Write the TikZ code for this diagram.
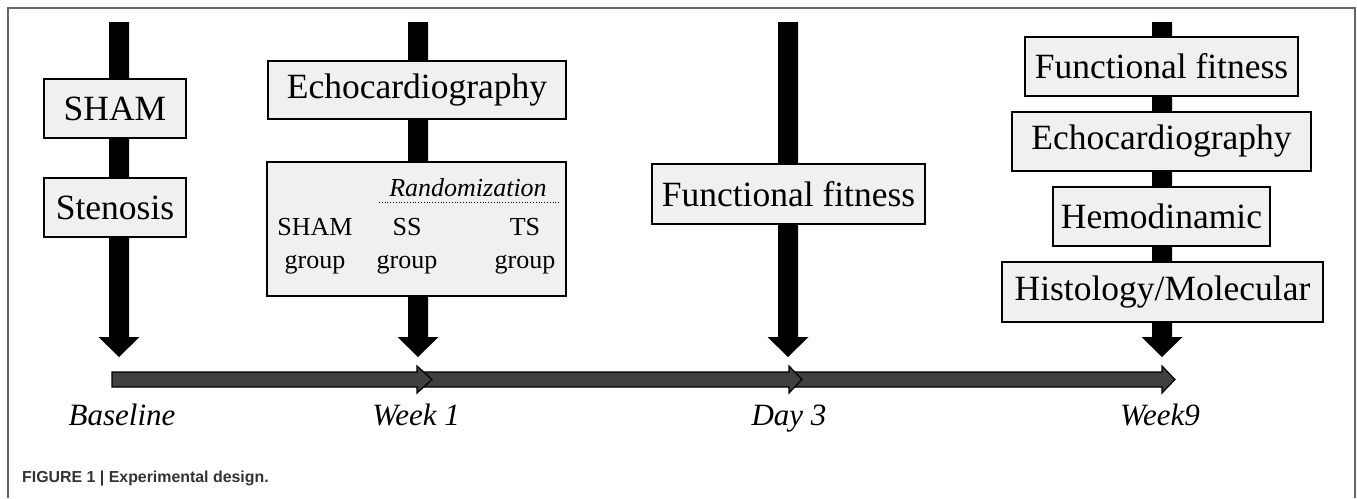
\documentclass[tikz,border=0pt]{standalone}
\usepackage{fontspec}
\setmainfont{Liberation Serif}
\newfontfamily\capfont{Liberation Sans}
\begin{document}
\begin{tikzpicture}[x=1pt,y=-1pt,
  box/.style={draw=black,line width=1.3pt,fill=gray!12,inner sep=0pt,
    font=\fontsize{35.5}{40}\selectfont},
  tl/.style={font=\fontsize{31}{36}\selectfont\itshape,inner sep=0pt,anchor=base},
  small/.style={font=\fontsize{26}{33}\selectfont,inner sep=0pt,align=center},
  seg/.style={draw=black,line width=1.2pt,fill=black!75,line join=miter},
  varrow/.style={fill=black}]
\useasboundingbox (0,0) rectangle (1357,498);
% frame
\draw[line width=1.6pt,draw=black!60] (8,498) -- (8,8) -- (1355,8) -- (1355,498);

% timeline segments (drawn right to left so heads overlay)
\foreach \s/\e/\b in {789/1175/1162, 417/802/789, 112/432/417}{
  \draw[seg] (\s,372) -- (\b,372) -- (\b,366) -- (\e,379.5) -- (\b,393) -- (\b,387) -- (\s,387) -- cycle;
}

% vertical arrows
\foreach \n/\cx in {a/119, b/418, c/788, d/1162}{
  \coordinate (\n top) at (\cx,22);
  \coordinate (\n tip) at (\cx,357);
  \fill[varrow] ([xshift=-10pt]\n top) -- ([xshift=10pt]\n top) -- (\cx+10,337) -- (\cx+20.5,337)
     -- (\n tip) -- (\cx-20.5,337) -- (\cx-10,337) -- cycle;
}

% boxes
\node[box,minimum width=142pt,minimum height=59pt] (sham) at (115,108.5) {SHAM};
\node[box,minimum width=142pt,minimum height=59pt] (sten) at (115,207.5) {Stenosis};
\node[box,minimum width=298pt,minimum height=58pt] (echo1) at (417,90) {Echocardiography};
\node[box,minimum width=299pt,minimum height=134pt] (rand) at (416.5,229) {};
\node[small,font=\fontsize{26}{33}\selectfont\itshape] (randt) at (468,187.5) {Randomization};
\draw[dotted,line width=0.8pt] (379,202) -- (559,202);
\node[small] (g1) at (315,246) {SHAM\\group};
\node[small] (g2) at (407,246) {SS\\group};
\node[small] (g3) at (525,246) {TS\\group};

\node[box,minimum width=273pt,minimum height=60pt] (ff3) at (788.5,194) {Functional fitness};

\node[box,minimum width=273pt,minimum height=59pt] (ff9) at (1161.5,66.5) {Functional fitness};
\node[box,minimum width=299pt,minimum height=59pt] (echo9) at (1161.5,141.5) {Echocardiography};
\node[box,minimum width=217pt,minimum height=59pt] (hemo) at (1161.5,216.5) {Hemodinamic};
\node[box,minimum width=321pt,minimum height=60pt] (histo) at (1162.5,292) {Histology/Molecular};

% timeline labels
\node[tl] (l1) at (122,425) {Baseline};
\node[tl] (l2) at (416,425) {Week 1};
\node[tl] (l3) at (789,425) {Day 3};
\node[tl] (l4) at (1160,425) {Week9};

% caption
\node[anchor=west,inner sep=0pt,text=black!80,font=\capfont\bfseries\fontsize{15.9}{18}\selectfont] (cap) at (22,478) {FIGURE 1 | Experimental design.};
\end{tikzpicture}
\end{document}
